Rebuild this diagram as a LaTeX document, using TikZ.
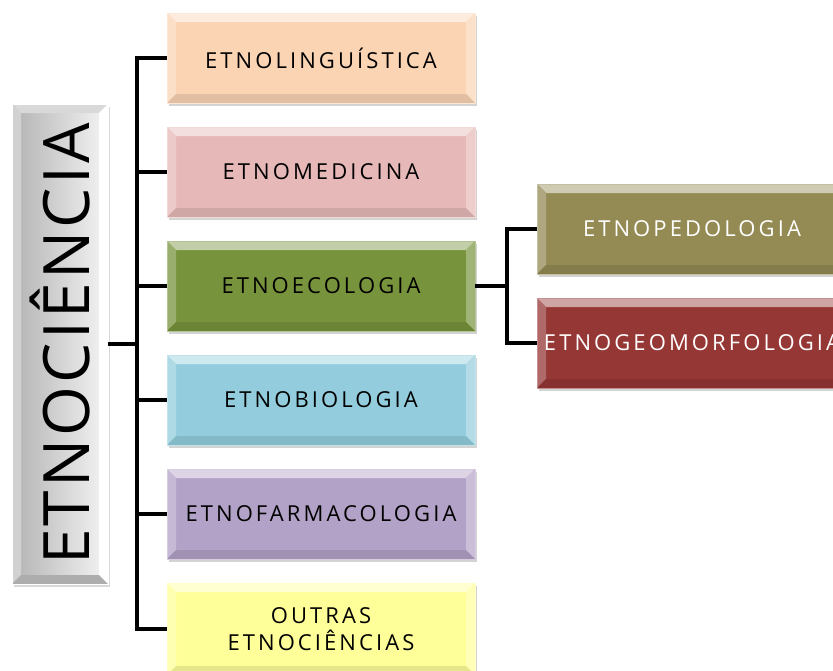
\documentclass[tikz,border=0pt]{standalone}
\usepackage{fontspec}
\setmainfont{Open Sans}
\newfontfamily\boxfont[LetterSpace=14]{Open Sans}
\newfontfamily\titlefont[LetterSpace=5]{Open Sans}
\usetikzlibrary{shadows}

\definecolor{cPeach}{HTML}{FBD4B4}
\definecolor{cPink}{HTML}{E6B9B8}
\definecolor{cGreen}{HTML}{77933C}
\definecolor{cBlue}{HTML}{93CDDD}
\definecolor{cLilac}{HTML}{B3A2C7}
\definecolor{cYellow}{HTML}{FFFF99}
\definecolor{cKhaki}{HTML}{948A54}
\definecolor{cRed}{HTML}{953735}

\newcommand\bvw{9pt}

\tikzset{
  % bevelled panel: four trapezoids along the edges of the node
  bevelparts/.style n args={5}{path picture={
    \coordinate (bnw) at (path picture bounding box.north west);
    \coordinate (bne) at (path picture bounding box.north east);
    \coordinate (bsw) at (path picture bounding box.south west);
    \coordinate (bse) at (path picture bounding box.south east);
    \coordinate (inw) at ([shift={(\bvw,-\bvw)}]bnw);
    \coordinate (ine) at ([shift={(-\bvw,-\bvw)}]bne);
    \coordinate (isw) at ([shift={(\bvw,\bvw)}]bsw);
    \coordinate (ise) at ([shift={(-\bvw,\bvw)}]bse);
    \fill[#2] (bnw) -- (bne) -- (ine) -- (inw) -- cycle;
    \fill[#3] (bnw) -- (inw) -- (isw) -- (bsw) -- cycle;
    \fill[#4] (bne) -- (ine) -- (ise) -- (bse) -- cycle;
    \fill[#5] (bsw) -- (isw) -- (ise) -- (bse) -- cycle;
  }},
  panel/.style={rectangle, inner sep=0pt, fill=#1,
    draw=#1!55!white, line width=0.6pt,
    drop shadow={shadow xshift=1.5pt, shadow yshift=-3pt, opacity=0.35},
    bevelparts={#1}{#1!45!white}{#1!75!white}{#1!70!white}{#1!90!black},
    font=\boxfont\fontsize{22}{27}\selectfont, align=center},
  leftbox/.style={panel=#1, minimum width=308pt, minimum height=90pt, text=black},
  rightbox/.style={panel=#1, minimum width=310pt, minimum height=90pt, text=white},
  link/.style={line width=4pt, draw=black, line join=miter},
}

\begin{document}
\begin{tikzpicture}[x=1pt, y=-1pt]
\useasboundingbox (0,0) rectangle (833,670);

% title panel
\node (title) [rectangle, inner sep=0pt, minimum width=96pt, minimum height=480pt,
  left color=black!30, right color=black!4, draw=white, line width=0.6pt,
  drop shadow={shadow xshift=1.5pt, shadow yshift=-3pt, opacity=0.3},
  bevelparts={}{white!85!black}{black!18}{white}{black!32}]
  at (60,344) {\rotatebox{90}{\titlefont\fontsize{64}{64}\selectfont ETNOCIÊNCIA}};

% main branches
\node (ling) [leftbox=cPeach]  at (321,58)  {ETNOLINGUÍSTICA};
\node (med)  [leftbox=cPink]   at (321,172) {ETNOMEDICINA};
\node (eco)  [leftbox=cGreen]  at (321,286) {ETNOECOLOGIA};
\node (bio)  [leftbox=cBlue]   at (321,400) {ETNOBIOLOGIA};
\node (farm) [leftbox=cLilac]  at (321,514) {ETNOFARMACOLOGIA};
\node (out)  [leftbox=cYellow, minimum height=92pt] at (321,629) {OUTRAS\\ETNOCIÊNCIAS};

% sub-branches of etnoecologia
\node (ped) [rightbox=cKhaki] at (692,229) {ETNOPEDOLOGIA};
\node (geo) [rightbox=cRed]   at (692,343) {ETNOGEOMORFOLOGIA};

% connectors
\coordinate (trunk) at (137,344);
\coordinate (fork)  at (507,286);
\draw[link] (title.east) -- (trunk);
\foreach \b in {ling,med,eco,bio,farm,out}
  \draw[link] (trunk) |- (\b.west);
\draw[link] (eco.east) -- (fork);
\draw[link] (fork) |- (ped.west);
\draw[link] (fork) |- (geo.west);
\end{tikzpicture}
\end{document}
